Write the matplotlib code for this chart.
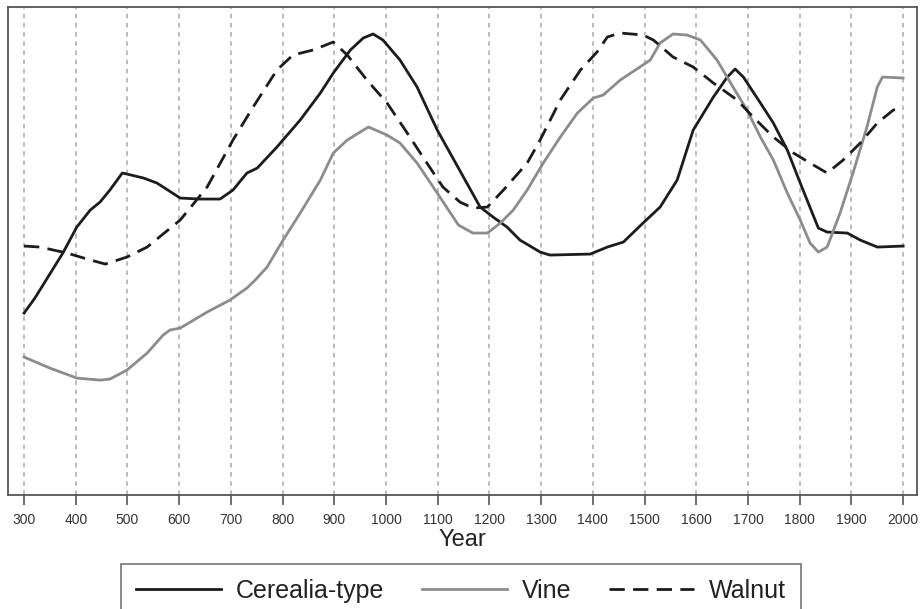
import matplotlib
matplotlib.use("Agg")
import matplotlib.pyplot as plt

plt.rcParams['font.family'] = ['Liberation Sans', 'DejaVu Sans']

# pollen index curves (arbitrary units, no y scale shown)
cer_years = [300, 321, 375, 402, 428, 447, 466, 490, 499, 531, 557, 602, 640, 679, 704,
             731, 751, 789, 834, 873, 898, 931, 956, 975, 994, 1027, 1060, 1099, 1140,
             1182, 1207, 1234, 1259, 1298, 1317, 1395, 1428, 1459, 1497, 1530, 1563,
             1594, 1633, 1660, 1675, 1691, 1724, 1749, 1776, 1801, 1836, 1853, 1892,
             1917, 1950, 2000]
cer_vals = [182, 197, 242, 268, 285, 293, 305, 322, 321, 317, 312, 297, 296, 296, 305,
            322, 327, 348, 375, 402, 422, 445, 457, 461, 455, 435, 408, 365, 327,
            288, 278, 268, 255, 243, 240, 241, 248, 253, 272, 288, 315,
            365, 398, 418, 426, 418, 392, 372, 345, 312, 267, 263, 262,
            255, 248, 249]

vine_years = [300, 350, 402, 447, 466, 499, 538, 569, 582, 602, 654, 698, 731, 747, 770,
              801, 834, 873, 898, 925, 950, 966, 1002, 1027, 1060, 1099, 1140, 1168,
              1196, 1221, 1246, 1273, 1304, 1337, 1370, 1401, 1420, 1453, 1491, 1511,
              1530, 1555, 1582, 1608, 1640, 1671, 1698, 1724, 1749, 1776, 1801, 1820,
              1836, 1853, 1878, 1903, 1930, 1950, 1960, 2000]
vine_vals = [138, 127, 117, 115, 116, 125, 142, 160, 165, 167, 183, 195, 207, 215, 228,
             255, 282, 315, 342, 355, 363, 368, 360, 352, 332, 302, 270, 262,
             262, 272, 285, 305, 332, 358, 382, 397, 400, 415, 428, 435,
             452, 461, 460, 455, 435, 408, 385, 358, 335, 302, 275, 252,
             243, 248, 282, 322, 368, 408, 418, 417]

wal_years = [300, 331, 383, 422, 457, 499, 538, 602, 654, 704, 743, 789, 820, 859, 898,
             925, 963, 1002, 1041, 1079, 1110, 1143, 1168, 1196, 1227, 1273, 1298, 1337,
             1376, 1408, 1428, 1453, 1497, 1517, 1555, 1594, 1633, 1679, 1710, 1749,
             1788, 1820, 1853, 1884, 1917, 1950, 1981, 2000]
wal_vals = [249, 248, 242, 236, 231, 238, 248, 275, 308, 355, 388, 425, 440, 445, 453,
            440, 415, 392, 362, 332, 308, 293, 287, 288, 305, 332, 355, 395,
            425, 443, 458, 462, 460, 455, 438, 428, 412, 395, 378, 358,
            342, 332, 322, 335, 352, 372, 385, 387]

year_ticks = list(range(300, 2001, 100))

fig = plt.figure(figsize=(9.22, 6.09), dpi=100)
ax = fig.add_axes([0.0087, 0.187, 0.986, 0.8015])

for yr in year_ticks:
    ax.axvline(yr, color='#aaaaaa', lw=1.1, ls=(0, (3, 3)), zorder=0)

ax.plot(cer_years, cer_vals, color='#1c1c1c', lw=2.0, label='Cerealia-type')
ax.plot(vine_years, vine_vals, color='#8c8c8c', lw=2.0, label='Vine')
ax.plot(wal_years, wal_vals, color='#1c1c1c', lw=2.0, ls=(0, (5.5, 3)), label='Walnut')

ax.set_xlim(269, 2027)
ax.set_ylim(0, 488)
ax.set_yticks([])
ax.set_xticks(year_ticks)
ax.tick_params(axis='x', direction='out', length=7, width=1.2, color='#555555',
               labelsize=10, labelcolor='#333333', pad=6)
for sp in ax.spines.values():
    sp.set_color('#555555')
    sp.set_linewidth(1.3)

ax.set_xlabel('Year', fontsize=17, color='#222222', labelpad=1)

leg = fig.legend(loc='upper center', bbox_to_anchor=(0.5, 0.074), ncol=3,
                 fontsize=18, handlelength=3.4, handletextpad=0.6, columnspacing=1.5,
                 frameon=True, fancybox=False, borderaxespad=0, borderpad=0.6)
leg.get_frame().set_edgecolor('#555555')
leg.get_frame().set_linewidth(1.2)
for t in leg.get_texts():
    t.set_color('#222222')

fig.savefig('out.png', dpi=100)
